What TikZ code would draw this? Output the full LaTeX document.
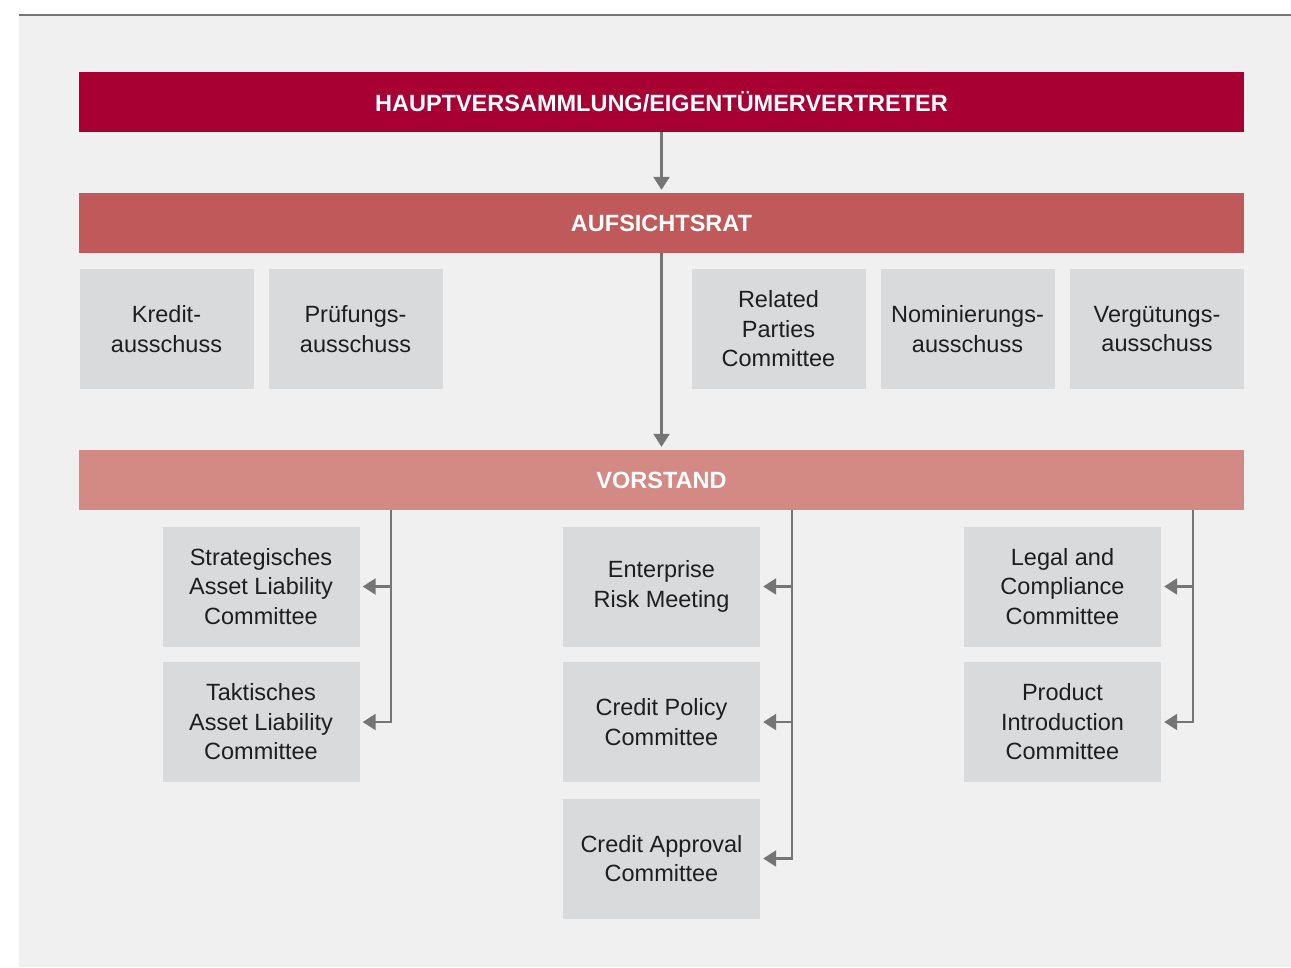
\documentclass[tikz,border=0pt]{standalone}
\usepackage{fontspec}
\setmainfont{Liberation Sans}
\usetikzlibrary{arrows.meta}
\definecolor{bgc}{HTML}{F0F0F0}
\definecolor{topc}{HTML}{A80032}
\definecolor{arc}{HTML}{C05A5A}
\definecolor{vsc}{HTML}{D38A84}
\definecolor{boxc}{HTML}{D9DADB}
\definecolor{linec}{HTML}{757575}
\definecolor{txtc}{HTML}{1E1E1E}
\tikzset{
  bar/.style={fill=#1, inner sep=0pt, minimum width=1165pt, minimum height=60pt,
    text=white, font=\fontsize{23.5pt}{29pt}\selectfont\bfseries},
  cbox/.style={fill=boxc, inner sep=0pt, minimum width=174pt, minimum height=120pt,
    align=center, text=txtc, font=\fontsize{23.5pt}{29.5pt}\selectfont},
  lbox/.style={fill=boxc, inner sep=0pt, minimum width=197pt, minimum height=120pt,
    align=center, text=txtc, font=\fontsize{23.5pt}{29.5pt}\selectfont},
  conn/.style={draw=linec, line width=2.5pt, -{Triangle[length=13pt,width=16pt]}, shorten >=3pt},
}
\begin{document}
\begin{tikzpicture}[x=1pt,y=-1pt]
\useasboundingbox (0,0) rectangle (1291,967);
\fill[bgc] (19,16) rectangle (1291,967);
\draw[linec, line width=2.5pt] (19,15) -- (1291,15);

\node[bar=topc] (hv) at (661.5,102) {HAUPTVERSAMMLUNG/EIGENTÜMERVERTRETER};
\node[bar=arc] (ar) at (661.5,223) {AUFSICHTSRAT};
\node[bar=vsc] (vs) at (661.5,480) {VORSTAND};

\node[cbox] (kr) at (166.5,329) {Kredit-\\ausschuss};
\node[cbox] (pr) at (355.5,329) {Prüfungs-\\ausschuss};
\node[cbox] (rp) at (778.5,329) {Related\\Parties\\Committee};
\node[cbox] (no) at (967.5,329) {Nominierungs-\\ausschuss};
\node[cbox] (ve) at (1157,329) {Vergütungs-\\ausschuss};

\node[lbox] (sal) at (261,586.5) {Strategisches\\Asset Liability\\Committee};
\node[lbox] (tal) at (261,722) {Taktisches\\Asset Liability\\Committee};
\node[lbox] (erm) at (661.5,586.5) {Enterprise\\Risk Meeting};
\node[lbox] (cpc) at (661.5,722) {Credit Policy\\Committee};
\node[lbox] (cac) at (661.5,858.5) {Credit Approval\\Committee};
\node[lbox] (lcc) at (1062.5,586.5) {Legal and\\Compliance\\Committee};
\node[lbox] (pic) at (1062.5,722) {Product\\Introduction\\Committee};

\draw[conn] (hv.south) -- (ar.north);
\draw[conn] (ar.south) -- (vs.north);

\coordinate (b1) at (391,510);
\coordinate (b2) at (792,510);
\coordinate (b3) at (1193,510);
\draw[conn] (b1) |- (sal.east);
\draw[conn] (b1) |- (tal.east);
\draw[conn] (b2) |- (erm.east);
\draw[conn] (b2) |- (cpc.east);
\draw[conn] (b2) |- (cac.east);
\draw[conn] (b3) |- (lcc.east);
\draw[conn] (b3) |- (pic.east);
\end{tikzpicture}
\end{document}
